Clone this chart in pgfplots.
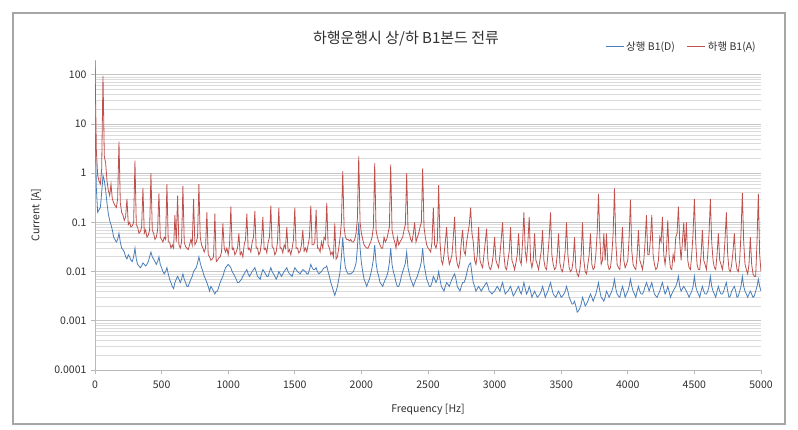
\documentclass[border=0pt]{standalone}
\usepackage{pgfplots}
\pgfplotsset{compat=1.18}
\usepackage{pgfplotstable}
\usepackage{fontspec}
\setmainfont{Noto Sans CJK KR}
\definecolor{xlblue}{HTML}{4A7EBB}
\definecolor{xlred}{HTML}{C0504D}
\definecolor{txt}{HTML}{303030}
\pgfplotstableread{
f D A
0 15 190
10 0.5 3
20 0.16 0.9
30 0.18 0.7
40 0.2 0.6
50 0.4 1.2
60 0.9 95
70 0.7 2.2
80 0.45 1.6
90 0.25 0.7
100 0.15 0.45
110 0.11 0.35
120 0.09 0.6
130 0.07 0.3
140 0.05 0.25
150 0.045 0.22
160 0.04 0.2
170 0.045 0.3
180 0.06 4.4
190 0.04 0.25
200 0.03 0.16
210 0.028 0.14
220 0.025 0.11
230 0.02 0.13
240 0.018 0.3
250 0.022 0.09
260 0.02 0.1
270 0.017 0.08
280 0.016 0.085
290 0.02 0.1
300 0.03 1.8
310 0.018 0.09
320 0.014 0.08
330 0.013 0.06
340 0.012 0.065
350 0.013 0.08
360 0.015 0.5
370 0.014 0.06
380 0.013 0.07
390 0.014 0.05
400 0.016 0.055
410 0.02 0.07
420 0.025 1.0
430 0.02 0.07
440 0.018 0.06
450 0.016 0.045
460 0.014 0.05
470 0.016 0.07
480 0.02 0.39
490 0.014 0.05
500 0.012 0.045
510 0.01 0.04
520 0.009 0.05
530 0.01 0.045
540 0.012 0.6
550 0.009 0.04
560 0.007 0.04
570 0.006 0.03
580 0.005 0.035
590 0.0045 0.03
600 0.006 0.14
610 0.007 0.04
620 0.008 0.35
630 0.007 0.035
640 0.006 0.03
650 0.007 0.04
660 0.009 0.55
670 0.007 0.04
680 0.006 0.032
690 0.005 0.03
700 0.005 0.028
710 0.006 0.035
720 0.007 0.045
730 0.008 0.035
740 0.01 0.3
750 0.011 0.035
760 0.012 0.04
770 0.015 0.05
780 0.02 0.6
790 0.015 0.05
800 0.012 0.035
810 0.01 0.03
820 0.008 0.025
830 0.007 0.03
840 0.006 0.16
850 0.005 0.022
860 0.004 0.02
870 0.005 0.017
880 0.0045 0.018
890 0.004 0.02
900 0.0035 0.15
910 0.004 0.016
920 0.004 0.017
930 0.005 0.019
940 0.006 0.02
950 0.007 0.025
960 0.008 0.095
970 0.01 0.03
980 0.012 0.025
990 0.013 0.03
1000 0.014 0.022
1010 0.013 0.035
1020 0.012 0.21
1030 0.01 0.028
1040 0.009 0.03
1050 0.008 0.022
1060 0.007 0.025
1070 0.006 0.03
1080 0.006 0.06
1090 0.0065 0.022
1100 0.007 0.025
1110 0.008 0.02
1120 0.009 0.035
1130 0.01 0.045
1140 0.011 0.15
1150 0.009 0.028
1160 0.008 0.03
1170 0.009 0.025
1180 0.01 0.04
1190 0.011 0.05
1200 0.012 0.17
1210 0.01 0.03
1220 0.008 0.03
1230 0.0075 0.022
1240 0.007 0.025
1250 0.009 0.04
1260 0.011 0.13
1270 0.01 0.028
1280 0.009 0.03
1290 0.008 0.024
1300 0.008 0.04
1310 0.01 0.05
1320 0.012 0.22
1330 0.01 0.032
1340 0.009 0.03
1350 0.008 0.022
1360 0.007 0.025
1370 0.008 0.04
1380 0.01 0.2
1390 0.009 0.03
1400 0.008 0.03
1410 0.009 0.024
1420 0.01 0.035
1430 0.011 0.03
1440 0.012 0.08
1450 0.01 0.025
1460 0.009 0.028
1470 0.0085 0.022
1480 0.008 0.03
1490 0.01 0.045
1500 0.012 0.2
1510 0.011 0.03
1520 0.01 0.03
1530 0.0095 0.024
1540 0.009 0.026
1550 0.01 0.035
1560 0.011 0.07
1570 0.0105 0.026
1580 0.01 0.03
1590 0.009 0.025
1600 0.009 0.035
1610 0.011 0.05
1620 0.014 0.22
1630 0.012 0.035
1640 0.011 0.035
1650 0.011 0.04
1660 0.012 0.18
1670 0.01 0.03
1680 0.009 0.03
1690 0.0095 0.025
1700 0.01 0.04
1710 0.011 0.03
1720 0.012 0.05
1730 0.012 0.045
1740 0.013 0.25
1750 0.01 0.035
1760 0.008 0.03
1770 0.006 0.022
1780 0.005 0.025
1790 0.004 0.02
1800 0.0033 0.095
1810 0.004 0.018
1820 0.005 0.02
1830 0.007 0.03
1840 0.01 0.05
1850 0.02 0.1
1860 0.05 1.1
1870 0.02 0.08
1880 0.012 0.05
1890 0.01 0.045
1900 0.009 0.045
1910 0.009 0.042
1920 0.009 0.045
1930 0.0095 0.04
1940 0.01 0.04
1950 0.012 0.045
1960 0.015 0.06
1970 0.03 0.12
1980 0.1 2.2
1990 0.03 0.1
2000 0.015 0.06
2010 0.01 0.045
2020 0.007 0.035
2030 0.006 0.032
2040 0.005 0.03
2050 0.006 0.03
2060 0.007 0.035
2070 0.009 0.04
2080 0.012 0.05
2090 0.018 0.08
2100 0.035 1.6
2110 0.015 0.07
2120 0.01 0.05
2130 0.008 0.04
2140 0.006 0.035
2150 0.0055 0.03
2160 0.005 0.03
2170 0.006 0.05
2180 0.007 0.04
2190 0.008 0.045
2200 0.01 0.06
2210 0.015 0.08
2220 0.03 1.5
2230 0.014 0.07
2240 0.01 0.05
2250 0.008 0.04
2260 0.006 0.03
2270 0.005 0.05
2280 0.005 0.035
2290 0.006 0.04
2300 0.008 0.045
2310 0.01 0.05
2320 0.012 0.07
2330 0.015 0.09
2340 0.025 1.0
2350 0.012 0.07
2360 0.009 0.06
2370 0.007 0.045
2380 0.006 0.04
2390 0.005 0.06
2400 0.006 0.1
2410 0.007 0.04
2420 0.008 0.05
2430 0.01 0.06
2440 0.012 0.08
2450 0.016 0.1
2460 0.03 1.25
2470 0.014 0.08
2480 0.01 0.05
2490 0.007 0.035
2500 0.006 0.03
2510 0.005 0.028
2520 0.005 0.025
2530 0.006 0.04
2540 0.008 0.2
2550 0.007 0.035
2560 0.006 0.03
2570 0.007 0.04
2580 0.01 0.57
2590 0.007 0.04
2600 0.005 0.017
2610 0.0045 0.014
2620 0.004 0.022
2630 0.005 0.04
2640 0.006 0.08
2650 0.0055 0.022
2660 0.005 0.014
2670 0.006 0.017
2680 0.007 0.022
2690 0.008 0.05
2700 0.009 0.13
2710 0.007 0.022
2720 0.005 0.014
2730 0.0045 0.012
2740 0.004 0.017
2750 0.005 0.04
2760 0.006 0.07
2770 0.006 0.026
2780 0.007 0.022
2790 0.009 0.04
2800 0.012 0.06
2810 0.014 0.09
2820 0.015 0.2
2830 0.009 0.06
2840 0.006 0.04
2850 0.005 0.017
2860 0.004 0.014
2870 0.0045 0.022
2880 0.005 0.08
2890 0.0045 0.017
2900 0.004 0.014
2910 0.0045 0.012
2920 0.005 0.022
2930 0.0055 0.04
2940 0.006 0.075
2950 0.005 0.017
2960 0.004 0.012
2970 0.0038 0.011
2980 0.0035 0.014
2990 0.0038 0.022
3000 0.004 0.05
3010 0.0045 0.017
3020 0.005 0.014
3030 0.0045 0.012
3040 0.004 0.022
3050 0.005 0.045
3060 0.006 0.1
3070 0.0045 0.022
3080 0.0035 0.012
3090 0.0038 0.011
3100 0.004 0.017
3110 0.0045 0.026
3120 0.005 0.08
3130 0.004 0.017
3140 0.0032 0.014
3150 0.0035 0.011
3160 0.004 0.015
3170 0.0045 0.022
3180 0.005 0.06
3190 0.004 0.017
3200 0.0035 0.014
3210 0.0045 0.04
3220 0.006 0.16
3230 0.0045 0.026
3240 0.0035 0.017
3250 0.004 0.04
3260 0.005 0.13
3270 0.004 0.017
3280 0.003 0.012
3290 0.0035 0.017
3300 0.004 0.06
3310 0.0035 0.017
3320 0.003 0.014
3330 0.0032 0.011
3340 0.0035 0.017
3350 0.004 0.026
3360 0.005 0.07
3370 0.004 0.017
3380 0.003 0.012
3390 0.0035 0.011
3400 0.004 0.022
3410 0.005 0.05
3420 0.006 0.16
3430 0.0045 0.022
3440 0.0035 0.014
3450 0.0032 0.011
3460 0.003 0.012
3470 0.0035 0.022
3480 0.004 0.06
3490 0.0035 0.015
3500 0.003 0.011
3510 0.0032 0.01
3520 0.0035 0.015
3530 0.004 0.026
3540 0.005 0.1
3550 0.004 0.022
3560 0.003 0.012
3570 0.0026 0.01
3580 0.0022 0.011
3590 0.0022 0.017
3600 0.0025 0.05
3610 0.002 0.012
3620 0.0015 0.009
3630 0.0016 0.008
3640 0.0018 0.011
3650 0.0022 0.022
3660 0.003 0.1
3670 0.0025 0.017
3680 0.002 0.01
3690 0.0022 0.009
3700 0.0025 0.014
3710 0.003 0.022
3720 0.0035 0.06
3730 0.003 0.014
3740 0.0025 0.011
3750 0.003 0.012
3760 0.0035 0.022
3770 0.0045 0.06
3780 0.006 0.38
3790 0.004 0.05
3800 0.003 0.014
3810 0.0028 0.017
3820 0.0025 0.06
3830 0.003 0.017
3840 0.004 0.06
3850 0.0035 0.014
3860 0.003 0.011
3870 0.0035 0.012
3880 0.004 0.022
3890 0.005 0.06
3900 0.007 0.49
3910 0.0045 0.04
3920 0.0035 0.014
3930 0.0032 0.012
3940 0.003 0.011
3950 0.004 0.026
3960 0.005 0.08
3970 0.004 0.017
3980 0.003 0.012
3990 0.0035 0.014
4000 0.004 0.017
4010 0.005 0.05
4020 0.007 0.29
4030 0.005 0.026
4040 0.004 0.014
4050 0.0035 0.012
4060 0.003 0.011
4070 0.004 0.022
4080 0.005 0.07
4090 0.004 0.017
4100 0.0035 0.014
4110 0.0035 0.011
4120 0.004 0.017
4130 0.005 0.04
4140 0.006 0.14
4150 0.005 0.022
4160 0.004 0.022
4170 0.005 0.045
4180 0.006 0.14
4190 0.0045 0.022
4200 0.0035 0.014
4210 0.0032 0.011
4220 0.003 0.012
4230 0.0035 0.017
4240 0.004 0.05
4250 0.005 0.04
4260 0.006 0.13
4270 0.0045 0.022
4280 0.0035 0.014
4290 0.004 0.026
4300 0.005 0.11
4310 0.004 0.022
4320 0.003 0.012
4330 0.0035 0.011
4340 0.004 0.022
4350 0.0045 0.017
4360 0.005 0.05
4370 0.006 0.06
4380 0.008 0.21
4390 0.005 0.04
4400 0.004 0.017
4410 0.0045 0.04
4420 0.005 0.1
4430 0.0045 0.026
4440 0.004 0.1
4450 0.0035 0.017
4460 0.003 0.012
4470 0.0035 0.011
4480 0.004 0.022
4490 0.005 0.06
4500 0.008 0.3
4510 0.005 0.04
4520 0.004 0.014
4530 0.0035 0.011
4540 0.003 0.011
4550 0.004 0.022
4560 0.005 0.07
4570 0.004 0.017
4580 0.0035 0.014
4590 0.0035 0.011
4600 0.004 0.022
4610 0.005 0.06
4620 0.008 0.3
4630 0.005 0.04
4640 0.004 0.017
4650 0.0035 0.012
4660 0.003 0.011
4670 0.004 0.022
4680 0.005 0.06
4690 0.004 0.017
4700 0.0035 0.014
4710 0.0035 0.011
4720 0.004 0.017
4730 0.005 0.045
4740 0.006 0.16
4750 0.004 0.022
4760 0.003 0.011
4770 0.0032 0.01
4780 0.004 0.014
4790 0.0045 0.026
4800 0.005 0.06
4810 0.004 0.017
4820 0.003 0.011
4830 0.0032 0.01
4840 0.004 0.017
4850 0.005 0.06
4860 0.008 0.4
4870 0.005 0.04
4880 0.004 0.014
4890 0.0035 0.011
4900 0.003 0.009
4910 0.0035 0.014
4920 0.004 0.05
4930 0.0035 0.014
4940 0.003 0.009
4950 0.0032 0.008
4960 0.004 0.008
4970 0.005 0.04
4980 0.007 0.38
4990 0.005 0.022
5000 0.004 0.01
}\spec
\begin{document}
\begin{tikzpicture}
\path[use as bounding box] (0pt,0pt) rectangle (798pt,430pt);
\fill[white] (0pt,0pt) rectangle (798pt,430pt);
\draw[gray!70, line width=1.4pt] (13pt,6pt) rectangle (785pt,417pt);
\begin{axis}[
  at={(95pt,60pt)}, anchor=south west,
  scale only axis, width=666pt, height=310pt,
  xmin=0, xmax=5000, ymode=log, ymin=0.0001, ymax=200,
  axis lines*=left,
  axis line style={draw=gray!55, line width=0.8pt},
  xtick={0,500,1000,1500,2000,2500,3000,3500,4000,4500,5000},
  xticklabels={0,500,1000,1500,2000,2500,3000,3500,4000,4500,5000},
  ytick={0.0001,0.001,0.01,0.1,1,10,100},
  yticklabels={0.0001,0.001,0.01,0.1,1,10,100},
  ymajorgrids, yminorgrids,
  major grid style={gray!45, line width=0.8pt},
  minor grid style={gray!28, line width=0.6pt},
  tick style={gray!55, line width=0.8pt},
  major tick length=4pt, minor tick length=0pt,
  tick align=outside,
  ticklabel style={font=\fontsize{10.5}{12}\selectfont, text=txt},
  xticklabel style={yshift=-3pt},
  yticklabel style={xshift=-1pt},
  /pgf/number format/assume math mode=true,
  legend style={at={(1,1)}, anchor=south east, yshift=4pt, draw=none, fill=none,
    font=\fontsize{10.5}{12}\selectfont, text=txt, legend columns=2,
    /tikz/every even column/.style={column sep=10pt}},
  legend image code/.code={\draw[#1, line width=1pt] (0pt,0pt) -- (18pt,0pt);},
  clip=true,
]
\addplot[xlblue, line width=0.8pt] table[x=f, y=D] {\spec};
\addlegendentry{상행 B1(D)}
\addplot[xlred, line width=0.8pt] table[x=f, y=A] {\spec};
\addlegendentry{하행 B1(A)}
\end{axis}
\node[font=\fontsize{15}{18}\selectfont, text=txt] at (406pt,391pt) {하행운행시 상/하 B1본드 전류};
\node[font=\fontsize{10.5}{12}\selectfont, text=txt] at (428pt,20pt) {Frequency [Hz]};
\node[font=\fontsize{10.5}{12}\selectfont, text=txt, rotate=90] at (36pt,215pt) {Current [A]};
\end{tikzpicture}
\end{document}
